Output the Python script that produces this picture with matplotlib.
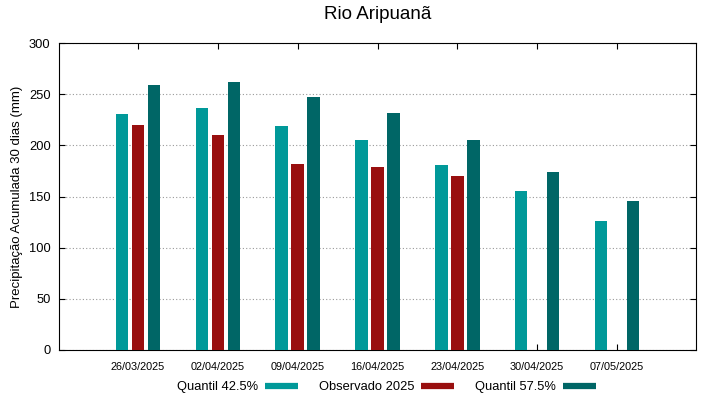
import numpy as np
import matplotlib
matplotlib.use('Agg')
import matplotlib.pyplot as plt
import matplotlib.transforms as mtransforms
from matplotlib.lines import Line2D

plt.rcParams['font.family'] = ['Liberation Sans', 'DejaVu Sans']

# dates (tick labels) and series values
datas = ['26/03/2025', '02/04/2025', '09/04/2025', '16/04/2025',
         '23/04/2025', '30/04/2025', '07/05/2025']
q425 = [230.6, 236.5, 219.0, 205.5, 180.8, 155.7, 126.0]
obs2025 = [219.6, 210.0, 181.8, 179.1, 169.7, np.nan, np.nan]
q575 = [259.3, 261.6, 246.9, 231.3, 204.9, 174.3, 145.6]

c_q425 = '#009999'
c_obs = '#990f0f'
c_q575 = '#006666'

fig = plt.figure(figsize=(7.19, 3.99), dpi=100)
ax = fig.add_axes([59/719, 49/399, 637/719, 307/399])

x = np.arange(len(datas))
w = 0.158
off = 0.2
ax.bar(x - off, q425, w, color=c_q425, zorder=3)
ax.bar(x, obs2025, w, color=c_obs, zorder=3)
ax.bar(x + off, q575, w, color=c_q575, zorder=3)

ax.set_xlim(-0.99, 6.99)
ax.set_ylim(0, 300)
ax.set_yticks(np.arange(0, 301, 50))
ax.set_xticks(x)
ax.set_xticklabels(datas, fontsize=7.8)
shift = mtransforms.ScaledTranslation(7/100, 0, fig.dpi_scale_trans)
for lab in ax.get_xticklabels():
    lab.set_transform(lab.get_transform() + shift)

ax.tick_params(axis='both', direction='in', top=True, right=True, length=4, width=0.8)
ax.tick_params(axis='x', pad=9)
ax.tick_params(axis='y', labelsize=9.3, pad=6)
ax.yaxis.grid(True, linestyle=(0, (1, 2)), color='#999999', linewidth=0.8, zorder=0)
for s in ax.spines.values():
    s.set_linewidth(0.8)

ax.set_ylabel('Precipitação Acumulada 30 dias (mm)', fontsize=9.5, labelpad=4)
ax.set_title('Rio Aripuanã', fontsize=13.5, pad=17)

handles = [Line2D([], [], color=c_q425, lw=4.5, solid_capstyle='butt'),
           Line2D([], [], color=c_obs, lw=4.5, solid_capstyle='butt'),
           Line2D([], [], color=c_q575, lw=4.5, solid_capstyle='butt')]
labels = ['Quantil 42.5%', 'Observado 2025', 'Quantil 57.5%']
fig.legend(handles, labels, loc='center', bbox_to_anchor=(0.5375, 12/399), ncol=3,
           frameon=False, markerfirst=False, fontsize=9.3, handlelength=2.55,
           columnspacing=1.6, handletextpad=0.55)

fig.savefig('out.png', dpi=100)
